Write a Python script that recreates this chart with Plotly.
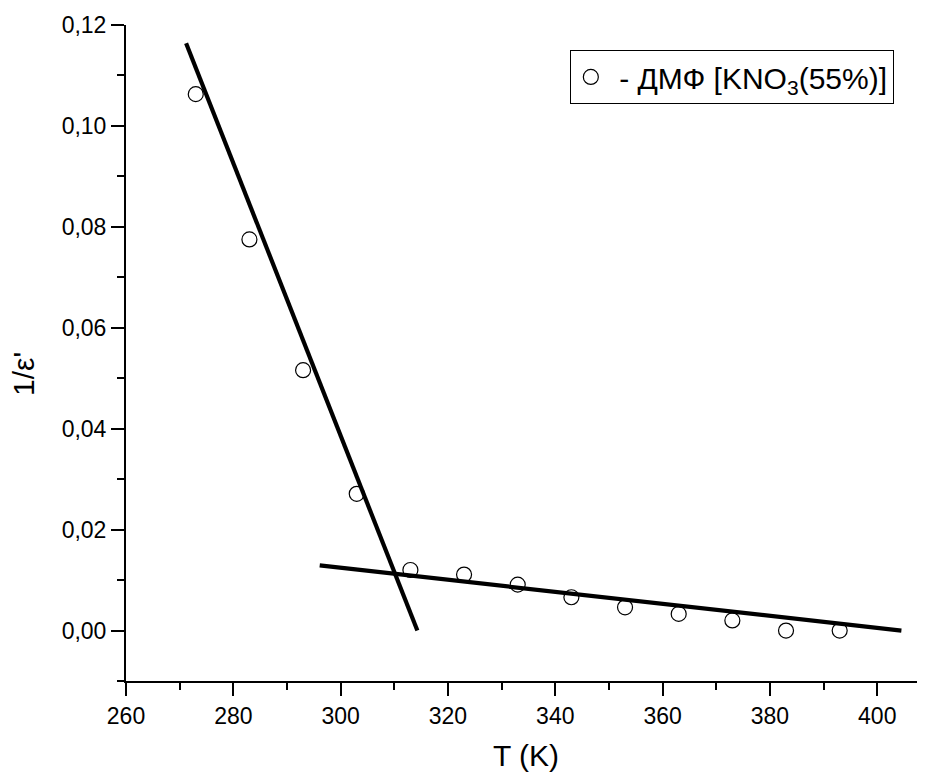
import plotly.graph_objects as go

# Data
T_vals = [273, 283, 293, 303, 313, 323, 333, 343, 353, 363, 373, 383, 393]
inv_eps = [0.1063, 0.0775, 0.0516, 0.0271, 0.0120, 0.0111, 0.0091,
           0.0066, 0.0046, 0.0033, 0.0020, 0.0000, 0.0000]

fit1_x = [271.2, 314.3]
fit1_y = [0.1164, 0.0]
fit2_x = [296.1, 404.5]
fit2_y = [0.0129, 0.0]

legend_name = "\u00a0- ДМФ [KNO<sub>3</sub>(55%)]"
x_title = "T (K)"
y_title = "1/ε'"

FONT = "Arial, 'Liberation Sans', sans-serif"

fig = go.Figure()
fig.add_trace(go.Scatter(
    x=T_vals, y=inv_eps, mode="markers", name=legend_name,
    marker=dict(symbol="circle-open", size=15, color="black",
                line=dict(width=1.2, color="black")),
))
fig.add_trace(go.Scatter(
    x=fit1_x, y=fit1_y, mode="lines", showlegend=False,
    line=dict(color="black", width=4.2),
))
fig.add_trace(go.Scatter(
    x=fit2_x, y=fit2_y, mode="lines", showlegend=False,
    line=dict(color="black", width=4.2),
))

axis_common = dict(
    showgrid=False, zeroline=False, showline=True, linecolor="black",
    linewidth=2, ticks="outside", ticklen=13, tickwidth=2, tickcolor="black",
    tickfont=dict(family=FONT, size=23, color="black"),
)

fig.update_xaxes(
    range=[260, 408.9], dtick=20, tick0=260,
    minor=dict(dtick=10, ticks="outside", ticklen=7, tickwidth=2, tickcolor="black"),
    **axis_common,
)
fig.update_yaxes(
    range=[-0.01, 0.12], dtick=0.02, tick0=0, tickformat=".2f",
    minor=dict(dtick=0.01, ticks="outside", ticklen=7, tickwidth=2, tickcolor="black"),
    **axis_common,
)

fig.add_annotation(
    text=x_title, xref="paper", yref="paper", x=0.5, y=0,
    yshift=-74, showarrow=False, xanchor="center", yanchor="middle",
    font=dict(family=FONT, size=30, color="black"),
)
fig.add_annotation(
    text=y_title, xref="paper", yref="paper", x=0, y=0.5,
    xshift=-103, yshift=-21, showarrow=False, textangle=-90,
    xanchor="center", yanchor="middle",
    font=dict(family=FONT, size=30, color="black"),
)

fig.update_layout(
    width=917, height=765,
    margin=dict(l=118, r=0, t=17, b=92),
    paper_bgcolor="white", plot_bgcolor="white",
    separators=",.",
    font=dict(family=FONT, color="black"),
    legend=dict(
        x=0.961, y=0.962, xanchor="right", yanchor="top",
        bordercolor="black", borderwidth=1, bgcolor="white",
        font=dict(family=FONT, size=30, color="black"),
    ),
)

fig.write_html("out.html")
